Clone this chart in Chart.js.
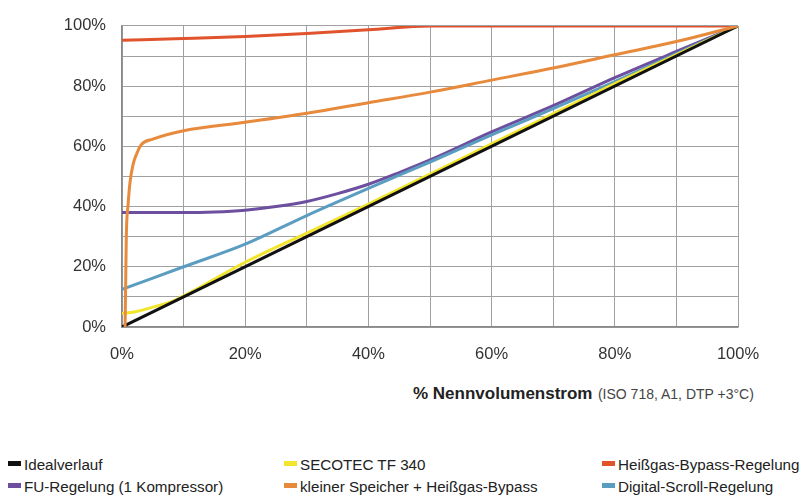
<!DOCTYPE html>
<html>
<head>
<meta charset="utf-8">
<script src="https://cdn.jsdelivr.net/npm/chart.js@4"></script>
<style>
  body { margin: 0; background: #fff; font-family: "Liberation Sans", Arial, sans-serif; }
  #wrap { position: relative; width: 805px; height: 497px; }
  #chart { position: absolute; left: 0; top: 0; }
  #xTitle { position: absolute; left: 413px; top: 384px; color: #222; white-space: nowrap; line-height: 20px; }
  #xTitle b { font-size: 17px; }
  #xTitle span { font-size: 14px; color: #444; margin-left: 1px; }
  #legend { position: absolute; left: 0; top: 455px; width: 805px; }
  .item { position: absolute; font-size: 15.2px; line-height: 20px; color: #222; white-space: nowrap; }
  .item i { display: inline-block; width: 13px; height: 5px; margin-right: 3px; vertical-align: 4px; }
</style>
</head>
<body>
<div id="wrap">
  <canvas id="chart" width="805" height="380"></canvas>
  <div id="xTitle"><b>% Nennvolumenstrom</b> <span>(ISO 718, A1, DTP +3°C)</span></div>
  <div id="legend"></div>
</div>
<script>
// x = % Nennvolumenstrom, y = % Leistung
const idealX = [0, 100];
const idealY = [0, 100];

const secotecX = [0, 2, 5, 8, 10, 20, 30, 40, 60, 80, 100];
const secotecY = [4.5, 5, 6.6, 8.4, 10.3, 21.5, 31.2, 40.8, 60.8, 80.8, 100];

const heissgasX = [0, 10, 20, 30, 40, 50, 100];
const heissgasY = [95.2, 95.8, 96.5, 97.5, 98.7, 100, 100];

const fuX = [0, 10, 15, 20, 25, 30, 35, 40, 45, 50, 60, 70, 80, 90, 100];
const fuY = [38, 38, 38.2, 38.8, 40, 41.7, 44.3, 47.4, 51.3, 55.5, 64.8, 73.5, 82.8, 91.5, 100];

const speicherX = [0.5, 0.6, 0.7, 1, 1.3, 1.8, 2.4, 3.1, 5, 10, 20, 30, 40, 50, 60, 70, 80, 90, 100];
const speicherY = [0, 15, 30, 41, 48, 54, 57.6, 60.5, 62.4, 65.2, 68, 71, 74.5, 78, 82, 86, 90.4, 94.8, 100];

const scrollX = [0, 10, 20, 30, 40, 50, 60, 70, 80, 90, 100];
const scrollY = [12.5, 20, 27.5, 37, 46, 54.8, 63.8, 72.5, 81.5, 90.8, 100];

const seriesNames = ['Idealverlauf', 'SECOTEC TF 340', 'Heißgas-Bypass-Regelung',
  'FU-Regelung (1 Kompressor)', 'kleiner Speicher + Heißgas-Bypass', 'Digital-Scroll-Regelung'];
const seriesColors = ['#111111', '#f2e52c', '#e0532c', '#6c4f9e', '#e88a3c', '#5b9dc0'];
const tickStep = 20;

const xs = [idealX, secotecX, heissgasX, fuX, speicherX, scrollX];
const ys = [idealY, secotecY, heissgasY, fuY, speicherY, scrollY];
// draw order: smaller = on top
const drawOrder = [2, 3, 6, 5, 1, 4];

const datasets = seriesNames.map((name, i) => ({
  label: name,
  data: xs[i].map((x, j) => ({ x: x, y: ys[i][j] })),
  borderColor: seriesColors[i],
  backgroundColor: seriesColors[i],
  borderWidth: 3,
  pointRadius: 0,
  cubicInterpolationMode: 'monotone',
  order: drawOrder[i],
  fill: false
}));

const pct = v => (v % tickStep === 0 ? v + '%' : '');

new Chart(document.getElementById('chart'), {
  type: 'line',
  data: { datasets: datasets },
  options: {
    responsive: false,
    animation: false,
    layout: { padding: { top: 17, right: 67, left: 0, bottom: 0 } },
    plugins: { legend: { display: false }, tooltip: { enabled: false } },
    scales: {
      x: {
        type: 'linear', min: 0, max: 100,
        ticks: { stepSize: 10, autoSkip: false, maxRotation: 0, callback: pct,
          color: '#333', padding: 18, font: { family: 'Liberation Sans', size: 16.5 } },
        grid: { color: '#a0a0a0', drawTicks: false },
        border: { color: '#888', width: 1.5 },
        afterFit: s => { s.height = 53; }
      },
      y: {
        min: 0, max: 100,
        ticks: { stepSize: 10, autoSkip: false, callback: pct,
          color: '#333', padding: 16, font: { family: 'Liberation Sans', size: 16.5 } },
        grid: { color: '#a0a0a0', drawTicks: false },
        border: { color: '#888', width: 1.5 },
        afterFit: s => { s.width = 122; }
      }
    }
  }
});

// legend in three columns
const legend = document.getElementById('legend');
const colX = [8, 284, 602];
seriesNames.forEach((name, i) => {
  const el = document.createElement('div');
  el.className = 'item';
  el.style.left = colX[i % 3] + 'px';
  el.style.top = (Math.floor(i / 3) * 22) + 'px';
  el.innerHTML = '<i style="background:' + seriesColors[i] + '"></i>' + name;
  legend.appendChild(el);
});
</script>
</body>
</html>
